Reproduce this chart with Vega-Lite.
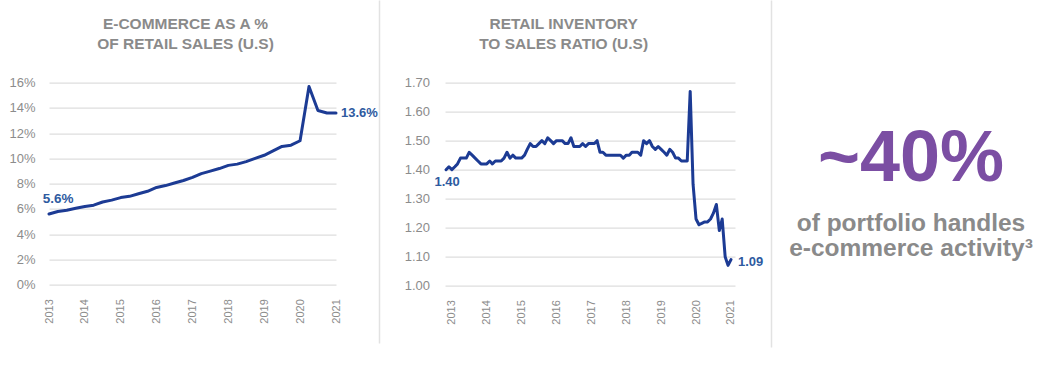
{
  "$schema": "https://vega.github.io/schema/vega-lite/v6.json",
  "padding": {"left": 8, "top": 16.7, "right": 0, "bottom": 30},
  "spacing": 1,
  "config": {
    "font": "Liberation Sans",
    "view": {"stroke": null},
    "title": {"fontSize": 15.5, "fontWeight": "bold", "color": "#8a8a8a", "lineHeight": 20, "anchor": "middle", "frame": "group", "offset": 24.5},
    "axis": {"domain": false, "ticks": false, "labelColor": "#8c8c8c", "labelFontSize": 13, "gridColor": "#dedede", "gridWidth": 1.3, "title": null}
  },
  "hconcat": [
    {
      "width": 287,
      "height": 202,
      "title": {"text": ["E-COMMERCE AS A %", "OF RETAIL SALES (U.S)"], "dx": -7},
      "data": {"values": [
        {"date": "2013-01-01", "v": 0.056}, {"date": "2013-04-01", "v": 0.058}, {"date": "2013-07-01", "v": 0.059}, {"date": "2013-10-01", "v": 0.0605},
        {"date": "2014-01-01", "v": 0.062}, {"date": "2014-04-01", "v": 0.063}, {"date": "2014-07-01", "v": 0.0655}, {"date": "2014-10-01", "v": 0.067},
        {"date": "2015-01-01", "v": 0.069}, {"date": "2015-04-01", "v": 0.070}, {"date": "2015-07-01", "v": 0.072}, {"date": "2015-10-01", "v": 0.074},
        {"date": "2016-01-01", "v": 0.077}, {"date": "2016-04-01", "v": 0.0785}, {"date": "2016-07-01", "v": 0.0805}, {"date": "2016-10-01", "v": 0.0825},
        {"date": "2017-01-01", "v": 0.085}, {"date": "2017-04-01", "v": 0.088}, {"date": "2017-07-01", "v": 0.090}, {"date": "2017-10-01", "v": 0.092},
        {"date": "2018-01-01", "v": 0.0945}, {"date": "2018-04-01", "v": 0.0955}, {"date": "2018-07-01", "v": 0.0975}, {"date": "2018-10-01", "v": 0.100},
        {"date": "2019-01-01", "v": 0.1025}, {"date": "2019-04-01", "v": 0.106}, {"date": "2019-07-01", "v": 0.1095}, {"date": "2019-10-01", "v": 0.1105},
        {"date": "2020-01-01", "v": 0.114}, {"date": "2020-04-01", "v": 0.157}, {"date": "2020-07-01", "v": 0.138}, {"date": "2020-10-01", "v": 0.136},
        {"date": "2021-01-01", "v": 0.136}
      ]},
      "encoding": {
        "x": {"field": "date", "type": "temporal", "scale": {"type": "utc"},
          "axis": {"grid": false, "labelAngle": -90, "labelFontSize": 11, "labelPadding": 14, "format": "%Y",
            "values": [
              {"year": 2013, "month": 1, "date": 1, "utc": true}, {"year": 2014, "month": 1, "date": 1, "utc": true},
              {"year": 2015, "month": 1, "date": 1, "utc": true}, {"year": 2016, "month": 1, "date": 1, "utc": true},
              {"year": 2017, "month": 1, "date": 1, "utc": true}, {"year": 2018, "month": 1, "date": 1, "utc": true},
              {"year": 2019, "month": 1, "date": 1, "utc": true}, {"year": 2020, "month": 1, "date": 1, "utc": true},
              {"year": 2021, "month": 1, "date": 1, "utc": true}]}},
        "y": {"field": "v", "type": "quantitative", "scale": {"domain": [0, 0.16]},
          "axis": {"values": [0, 0.02, 0.04, 0.06, 0.08, 0.10, 0.12, 0.14, 0.16], "format": ".0%", "labelPadding": 14}}
      },
      "layer": [
        {"mark": {"type": "line", "color": "#1c3b94", "strokeWidth": 3, "strokeJoin": "round", "strokeCap": "round"}},
        {"transform": [{"filter": {"field": "date", "lte": {"year": 2013, "month": 2, "date": 1, "utc": true}}}],
          "mark": {"type": "text", "color": "#2e5aa0", "fontSize": 13.5, "fontWeight": "bold", "align": "center", "baseline": "middle", "dx": 9, "dy": -15},
          "encoding": {"text": {"field": "v", "type": "quantitative", "format": ".1%"}}},
        {"transform": [{"filter": {"field": "date", "gte": {"year": 2020, "month": 12, "date": 1, "utc": true}}}],
          "mark": {"type": "text", "color": "#2e5aa0", "fontSize": 13, "fontWeight": "bold", "align": "left", "baseline": "middle", "dx": 5},
          "encoding": {"text": {"field": "v", "type": "quantitative", "format": ".1%"}}}
      ]
    },
    {
      "width": 24,
      "height": 202,
      "data": {"values": [{"k": "a"}]},
      "mark": {"type": "text"},
      "encoding": {
        "y": {"field": "k", "type": "nominal", "scale": {"range": [-82.7, 260.3]},
          "axis": {"domain": true, "domainColor": "#e2e2e2", "domainWidth": 1.5, "labels": false, "ticks": false, "grid": false, "title": null}},
        "text": {"value": ""}
      }
    },
    {
      "spacing": 7,
      "hconcat": [
        {
          "width": 290,
          "height": 203,
          "title": {"text": ["RETAIL INVENTORY", "TO SALES RATIO (U.S)"], "dx": -26.4},
          "data": {"values": [
            {"date": "2012-11-01", "v": 1.40}, {"date": "2012-12-01", "v": 1.41},
            {"date": "2013-01-01", "v": 1.40}, {"date": "2013-02-01", "v": 1.41}, {"date": "2013-03-01", "v": 1.42}, {"date": "2013-04-01", "v": 1.44},
            {"date": "2013-05-01", "v": 1.44}, {"date": "2013-06-01", "v": 1.44}, {"date": "2013-07-01", "v": 1.46}, {"date": "2013-08-01", "v": 1.45},
            {"date": "2013-09-01", "v": 1.44}, {"date": "2013-10-01", "v": 1.43}, {"date": "2013-11-01", "v": 1.42}, {"date": "2013-12-01", "v": 1.42},
            {"date": "2014-01-01", "v": 1.42}, {"date": "2014-02-01", "v": 1.43}, {"date": "2014-03-01", "v": 1.42}, {"date": "2014-04-01", "v": 1.43},
            {"date": "2014-05-01", "v": 1.43}, {"date": "2014-06-01", "v": 1.43}, {"date": "2014-07-01", "v": 1.44}, {"date": "2014-08-01", "v": 1.46},
            {"date": "2014-09-01", "v": 1.44}, {"date": "2014-10-01", "v": 1.45}, {"date": "2014-11-01", "v": 1.44}, {"date": "2014-12-01", "v": 1.44},
            {"date": "2015-01-01", "v": 1.44}, {"date": "2015-02-01", "v": 1.45}, {"date": "2015-03-01", "v": 1.47}, {"date": "2015-04-01", "v": 1.49},
            {"date": "2015-05-01", "v": 1.48}, {"date": "2015-06-01", "v": 1.48}, {"date": "2015-07-01", "v": 1.49}, {"date": "2015-08-01", "v": 1.50},
            {"date": "2015-09-01", "v": 1.49}, {"date": "2015-10-01", "v": 1.51}, {"date": "2015-11-01", "v": 1.50}, {"date": "2015-12-01", "v": 1.49},
            {"date": "2016-01-01", "v": 1.50}, {"date": "2016-02-01", "v": 1.50}, {"date": "2016-03-01", "v": 1.50}, {"date": "2016-04-01", "v": 1.49},
            {"date": "2016-05-01", "v": 1.49}, {"date": "2016-06-01", "v": 1.51}, {"date": "2016-07-01", "v": 1.48}, {"date": "2016-08-01", "v": 1.48},
            {"date": "2016-09-01", "v": 1.48}, {"date": "2016-10-01", "v": 1.49}, {"date": "2016-11-01", "v": 1.48}, {"date": "2016-12-01", "v": 1.49},
            {"date": "2017-01-01", "v": 1.49}, {"date": "2017-02-01", "v": 1.49}, {"date": "2017-03-01", "v": 1.50}, {"date": "2017-04-01", "v": 1.46},
            {"date": "2017-05-01", "v": 1.46}, {"date": "2017-06-01", "v": 1.45}, {"date": "2017-07-01", "v": 1.45}, {"date": "2017-08-01", "v": 1.45},
            {"date": "2017-09-01", "v": 1.45}, {"date": "2017-10-01", "v": 1.45}, {"date": "2017-11-01", "v": 1.45}, {"date": "2017-12-01", "v": 1.44},
            {"date": "2018-01-01", "v": 1.45}, {"date": "2018-02-01", "v": 1.45}, {"date": "2018-03-01", "v": 1.46}, {"date": "2018-04-01", "v": 1.46},
            {"date": "2018-05-01", "v": 1.46}, {"date": "2018-06-01", "v": 1.45}, {"date": "2018-07-01", "v": 1.50}, {"date": "2018-08-01", "v": 1.49},
            {"date": "2018-09-01", "v": 1.50}, {"date": "2018-10-01", "v": 1.48}, {"date": "2018-11-01", "v": 1.47}, {"date": "2018-12-01", "v": 1.48},
            {"date": "2019-01-01", "v": 1.47}, {"date": "2019-02-01", "v": 1.46}, {"date": "2019-03-01", "v": 1.45}, {"date": "2019-04-01", "v": 1.47},
            {"date": "2019-05-01", "v": 1.46}, {"date": "2019-06-01", "v": 1.44}, {"date": "2019-07-01", "v": 1.44}, {"date": "2019-08-01", "v": 1.43},
            {"date": "2019-09-01", "v": 1.43}, {"date": "2019-10-01", "v": 1.43}, {"date": "2019-11-01", "v": 1.67}, {"date": "2019-12-01", "v": 1.35},
            {"date": "2020-01-01", "v": 1.23}, {"date": "2020-02-01", "v": 1.21}, {"date": "2020-03-01", "v": 1.215}, {"date": "2020-04-01", "v": 1.22},
            {"date": "2020-05-01", "v": 1.22}, {"date": "2020-06-01", "v": 1.23}, {"date": "2020-07-01", "v": 1.25}, {"date": "2020-08-01", "v": 1.28},
            {"date": "2020-09-01", "v": 1.19}, {"date": "2020-10-01", "v": 1.23}, {"date": "2020-11-01", "v": 1.10}, {"date": "2020-12-01", "v": 1.07},
            {"date": "2021-01-01", "v": 1.09}
          ]},
          "encoding": {
            "x": {"field": "date", "type": "temporal",
              "scale": {"type": "utc", "domain": [{"year": 2012, "month": 10, "date": 21, "utc": true}, {"year": 2021, "month": 2, "date": 12, "utc": true}]},
              "axis": {"grid": false, "labelAngle": -90, "labelFontSize": 11, "labelPadding": 14, "format": "%Y",
                "values": [
                  {"year": 2013, "month": 1, "date": 1, "utc": true}, {"year": 2014, "month": 1, "date": 1, "utc": true},
                  {"year": 2015, "month": 1, "date": 1, "utc": true}, {"year": 2016, "month": 1, "date": 1, "utc": true},
                  {"year": 2017, "month": 1, "date": 1, "utc": true}, {"year": 2018, "month": 1, "date": 1, "utc": true},
                  {"year": 2019, "month": 1, "date": 1, "utc": true}, {"year": 2020, "month": 1, "date": 1, "utc": true},
                  {"year": 2021, "month": 1, "date": 1, "utc": true}]}},
            "y": {"field": "v", "type": "quantitative", "scale": {"domain": [1.0, 1.7]},
              "axis": {"values": [1.0, 1.1, 1.2, 1.3, 1.4, 1.5, 1.6, 1.7], "format": ".2f", "labelPadding": 15.5}}
          },
          "layer": [
            {"mark": {"type": "line", "color": "#1c3b94", "strokeWidth": 3, "strokeJoin": "round", "strokeCap": "round"}},
            {"transform": [{"filter": {"field": "date", "lte": {"year": 2012, "month": 11, "date": 15, "utc": true}}}],
              "mark": {"type": "text", "color": "#2e5aa0", "fontSize": 13, "fontWeight": "bold", "align": "center", "baseline": "middle", "dx": 1, "dy": 12},
              "encoding": {"text": {"field": "v", "type": "quantitative", "format": ".2f"}}},
            {"transform": [{"filter": {"field": "date", "gte": {"year": 2020, "month": 12, "date": 15, "utc": true}}}],
              "mark": {"type": "text", "color": "#2e5aa0", "fontSize": 13, "fontWeight": "bold", "align": "left", "baseline": "middle", "dx": 7, "dy": 2},
              "encoding": {"text": {"field": "v", "type": "quantitative", "format": ".2f"}}}
          ]
        },
        {
          "width": 262,
          "height": 203,
          "resolve": {"scale": {"y": "independent"}, "axis": {"y": "independent"}},
          "layer": [
            {"data": {"values": [{"k": "s"}]},
              "mark": {"type": "text"},
              "encoding": {
                "y": {"field": "k", "type": "nominal", "scale": {"range": [-82.7, 264.3]},
                  "axis": {"orient": "left", "domain": true, "domainColor": "#e2e2e2", "domainWidth": 1.5, "labels": false, "ticks": false, "grid": false, "title": null}},
                "text": {"value": ""}
              }},
            {"data": {"values": [{"t": "~40%", "slot": "a"}, {"t": "of portfolio handles", "slot": "c"}, {"t": "e-commerce activity³", "slot": "d"}]},
              "encoding": {
                "y": {"field": "slot", "type": "ordinal", "scale": {"type": "point", "domain": ["a", "b", "c", "d"], "range": [98.7, 173.7], "padding": 0}, "axis": null},
                "text": {"field": "t", "type": "nominal"}
              },
              "layer": [
                {"transform": [{"filter": {"field": "slot", "equal": "a"}}],
                  "mark": {"type": "text", "fontSize": 72, "fontWeight": "bold", "color": "#7b4ea3", "baseline": "alphabetic", "align": "center", "dx": 9}},
                {"transform": [{"filter": {"field": "slot", "oneOf": ["c", "d"]}}],
                  "mark": {"type": "text", "fontSize": 24.5, "fontWeight": "bold", "color": "#8a8a8a", "baseline": "alphabetic", "align": "center", "dx": 9}}
              ]}
          ]
        }
      ]
    }
  ]
}
